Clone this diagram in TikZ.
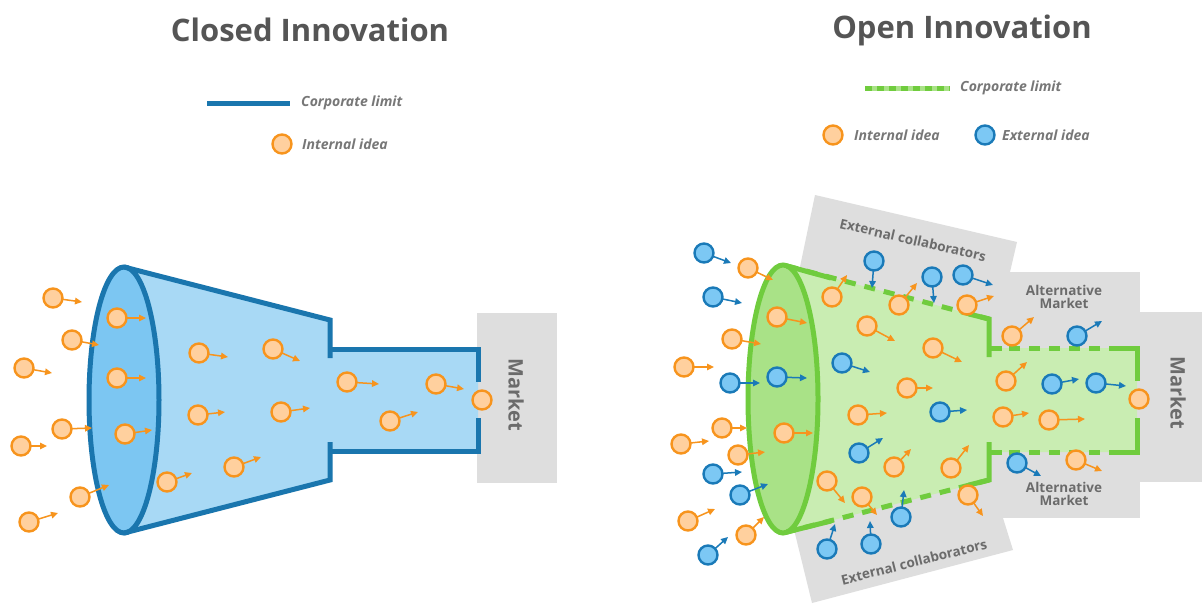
\documentclass[tikz,border=0pt]{standalone}
\usepackage{fontspec}
\setmainfont{Open Sans}
\usetikzlibrary{arrows.meta}
\definecolor{ostroke}{HTML}{F7941D}
\definecolor{ofill}{HTML}{FFD09E}
\definecolor{bstroke}{HTML}{1A7AB8}
\definecolor{bfill}{HTML}{7CC8F4}
\definecolor{fblue}{HTML}{1A76AE}
\definecolor{fbluefill}{HTML}{A8D9F5}
\definecolor{fblueell}{HTML}{7CC6F2}
\definecolor{fgreen}{HTML}{70CC3E}
\definecolor{fgreenfill}{HTML}{C9EDB2}
\definecolor{fgreenell}{HTML}{A9E287}
\definecolor{fgreenlight}{HTML}{A9E287}
\definecolor{boxgray}{HTML}{DEDEDE}
\definecolor{txtgray}{HTML}{6B6B6B}
\definecolor{titlegray}{HTML}{555555}
\definecolor{leggray}{HTML}{777777}
\tikzset{
  oidea/.style={circle,draw=ostroke,fill=ofill,line width=2.4pt,minimum size=19pt,inner sep=0pt},
  bidea/.style={circle,draw=bstroke,fill=bfill,line width=2.4pt,minimum size=19pt,inner sep=0pt},
  oarr/.style={draw=ostroke,line width=1.5pt,-{Triangle[length=7pt,width=6.5pt]},shorten <=-1pt},
  barr/.style={draw=bstroke,line width=1.5pt,-{Triangle[length=7pt,width=6.5pt]},shorten <=-1pt},
  blueline/.style={draw=fblue,line width=5pt},
  greenline/.style={draw=fgreen,line width=5pt},
  gdash/.style={draw=fgreen,line width=5pt,dash pattern=on 11pt off 9pt},
  graybox/.style={fill=boxgray,draw=none},
  titletext/.style={font=\bfseries\fontsize{31}{36}\selectfont,text=titlegray},
  legtext/.style={font=\bfseries\itshape\fontsize{14}{16}\selectfont,text=leggray,anchor=west,inner sep=0pt},
  boxtext/.style={font=\bfseries\fontsize{13.5}{16}\selectfont,text=txtgray,align=center},
  markettext/.style={font=\bfseries\fontsize{20}{24}\selectfont,text=txtgray,rotate=-90}
}
\newcommand\ideaO[3]{\node[oidea] (#1) at (#2) {};\coordinate (#1e) at (#3);\draw[oarr] (#1) -- (#1e);}
\newcommand\ideaB[3]{\node[bidea] (#1) at (#2) {};\coordinate (#1e) at (#3);\draw[barr] (#1) -- (#1e);}
\begin{document}
\begin{tikzpicture}[x=1pt,y=-1pt]
\useasboundingbox (0,0) rectangle (1202,603);
\fill[white] (0,0) rectangle (1202,603);

% ---------------- Titles
\node[titletext] (t1) at (310,30) {Closed Innovation};
\node[titletext] (t2) at (962,30) {Open Innovation};

% ---------------- Left legend
\coordinate (ll1) at (207,103);
\coordinate (ll2) at (290,103);
\draw[blueline] (ll1) -- (ll2);
\node[legtext] (lt1) at (301,103) {Corporate limit};
\node[oidea] (lc1) at (282,144) {};
\node[legtext] (lt2) at (302,144) {Internal idea};

% ---------------- Right legend
\coordinate (rl1) at (865,88);
\coordinate (rl2) at (950,88);
\draw[draw=fgreenlight,line width=5pt] (rl1) -- (rl2);
\draw[draw=fgreen,line width=5pt,dash pattern=on 7pt off 5pt] (rl1) -- (rl2);
\node[legtext] (rt1) at (960,88) {Corporate limit};
\node[oidea] (rc1) at (833,135) {};
\node[legtext] (rt2) at (854,135) {Internal idea};
\node[bidea] (rc2) at (985,135) {};
\node[legtext] (rt3) at (1002,135) {External idea};

% ---------------- Left market box
\fill[graybox] (477,313) rectangle (557,483);
\node[markettext] (m1) at (516,395) {Market};

% ---------------- Left funnel
\fill[fbluefill] (124,267) -- (330,320) -- (330,349) -- (478,349) -- (478,451) -- (330,451) -- (330,480) -- (124,533) -- cycle;
\draw[blueline,fill=fblueell] (124,400) ellipse [x radius=35,y radius=133];
\draw[blueline] (124,267) -- (330,320) -- (330,358);
\draw[blueline] (330,442) -- (330,480) -- (124,533);
\draw[blueline] (330,349) -- (478,349) -- (478,382);
\draw[blueline] (478,418) -- (478,451) -- (330,451);

% ---------------- Left ideas
\ideaO{a1}{53,298}{82,302}
\ideaO{a2}{72,340}{99,345}
\ideaO{a3}{24,368}{52,373}
\ideaO{a4}{117,318}{146,318}
\ideaO{a5}{117,378}{146,378}
\ideaO{a6}{62,429}{92,428}
\ideaO{a7}{21,446}{47,446}
\ideaO{a8}{125,434}{152,430}
\ideaO{a9}{80,497}{109,485}
\ideaO{a10}{29,522}{58,513}
\ideaO{a11}{199,353}{228,357}
\ideaO{a12}{273,349}{300,361}
\ideaO{a13}{198,415}{225,412}
\ideaO{a14}{281,412}{310,408}
\ideaO{a15}{167,482}{192,473}
\ideaO{a16}{234,467}{261,457}
\ideaO{a17}{347,382}{379,384}
\ideaO{a18}{390,421}{418,412}
\ideaO{a19}{436,384}{464,389}
\node[oidea] (a20) at (482,400) {};

% ---------------- Right gray boxes
\fill[graybox] (815,195) -- (1017,242) -- (1010,272) -- (995,335) -- (796,286) -- cycle;
\fill[graybox] (788,505) -- (985,462) -- (1003,518) -- (1013,550) -- (812,603) -- cycle;
\fill[graybox] (990,272) rectangle (1140,352);
\fill[graybox] (985,448) rectangle (1140,518);
\fill[graybox] (1137,312) rectangle (1202,482);
\node[boxtext,rotate=-13] (ec1) at (913,240) {External collaborators};
\node[boxtext,rotate=14] (ec2) at (914,562) {External collaborators};
\node[boxtext] (am1) at (1064,297) {Alternative\\[-3pt]Market};
\node[boxtext] (am2) at (1064,494) {Alternative\\[-3pt]Market};
\node[markettext] (m2) at (1178,393) {Market};

% ---------------- Right funnel
\fill[fgreenfill] (783,265) -- (989,319) -- (989,348) -- (1137,348) -- (1137,452) -- (989,452) -- (989,480) -- (783,533) -- cycle;
\draw[greenline,fill=fgreenell] (783,399) ellipse [x radius=35,y radius=134];
\draw[gdash] (787,266) -- (989,319);
\draw[gdash] (989,480) -- (787,532);
\draw[gdash] (989,348) -- (1137,348);
\draw[gdash] (989,452) -- (1137,452);
\draw[greenline] (787,266) -- (831,278);
\draw[greenline] (969,314) -- (989,319) -- (989,357);
\draw[greenline] (989,348) -- (1002,348);
\draw[greenline] (1120,348) -- (1137,348) -- (1137,381);
\draw[greenline] (1137,418) -- (1137,452) -- (1120,452);
\draw[greenline] (1002,452) -- (989,452);
\draw[greenline] (989,442) -- (989,480) -- (969,485);
\draw[greenline] (831,521) -- (787,532);

% ---------------- Right ideas
\ideaO{r1}{748,268}{773,280}
\ideaO{r2}{777,317}{807,323}
\ideaO{r3}{732,339}{761,344}
\ideaO{r4}{684,367}{714,367}
\ideaO{r5}{832,297}{847,275}
\ideaO{r6}{899,305}{917,283}
\ideaO{r7}{967,305}{994,296}
\ideaO{r8}{867,326}{895,341}
\ideaO{r9}{933,348}{962,362}
\ideaO{r10}{907,388}{933,388}
\ideaO{r11}{858,415}{887,413}
\ideaO{r12}{894,467}{911,449}
\ideaO{r13}{951,468}{969,445}
\ideaO{r14}{827,481}{845,503}
\ideaO{r15}{862,497}{877,515}
\ideaO{r16}{968,495}{983,516}
\ideaO{r17}{784,433}{813,433}
\ideaO{r18}{722,428}{747,428}
\ideaO{r19}{681,444}{709,441}
\ideaO{r20}{738,455}{765,452}
\ideaO{r21}{688,521}{715,509}
\ideaO{r22}{746,535}{764,517}
\ideaO{r23}{1012,336}{1034,317}
\ideaO{r24}{1006,381}{1027,362}
\ideaO{r25}{1003,417}{1029,413}
\ideaO{r26}{1049,420}{1085,419}
\ideaO{r27}{1076,460}{1102,471}
\node[oidea] (r28) at (1139,399) {};
\ideaB{b1}{704,253}{731,263}
\ideaB{b2}{713,297}{742,303}
\ideaB{b3}{730,383}{760,383}
\ideaB{b4}{777,377}{807,378}
\ideaB{b5}{874,261}{872,288}
\ideaB{b6}{932,277}{934,303}
\ideaB{b7}{963,275}{993,285}
\ideaB{b8}{842,363}{870,372}
\ideaB{b9}{940,412}{967,410}
\ideaB{b10}{859,453}{883,438}
\ideaB{b11}{713,474}{742,472}
\ideaB{b12}{740,495}{768,484}
\ideaB{b13}{708,555}{728,537}
\ideaB{b14}{827,549}{835,524}
\ideaB{b15}{871,544}{870,521}
\ideaB{b16}{901,517}{904,490}
\ideaB{b17}{1077,336}{1102,321}
\ideaB{b18}{1052,384}{1079,379}
\ideaB{b19}{1096,383}{1126,386}
\ideaB{b20}{1017,463}{1041,476}
\end{tikzpicture}
\end{document}
